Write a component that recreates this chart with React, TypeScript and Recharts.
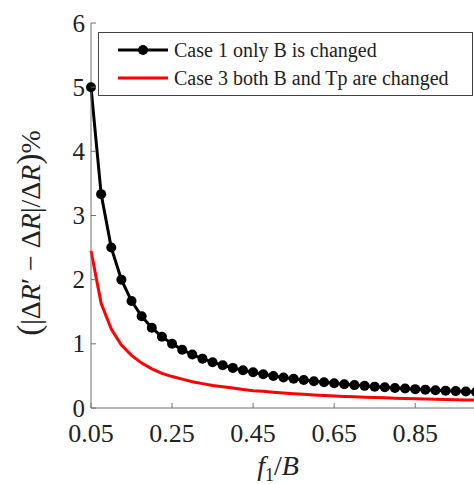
import { LineChart, Line, XAxis, YAxis, Legend } from 'recharts';

// f1/B sample points (step 0.025)
const f1OverB = [
  0.05, 0.075, 0.1, 0.125, 0.15, 0.175, 0.2, 0.225, 0.25, 0.275, 0.3, 0.325, 0.35,
  0.375, 0.4, 0.425, 0.45, 0.475, 0.5, 0.525, 0.55, 0.575, 0.6, 0.625, 0.65, 0.675,
  0.7, 0.725, 0.75, 0.775, 0.8, 0.825, 0.85, 0.875, 0.9, 0.925, 0.95, 0.975, 1.0,
];

// Case 1 only B is changed
const case1 = [
  5.0, 3.333, 2.5, 2.0, 1.667, 1.429, 1.25, 1.111, 1.0, 0.909, 0.833, 0.769, 0.714,
  0.667, 0.625, 0.588, 0.556, 0.526, 0.5, 0.476, 0.455, 0.435, 0.417, 0.4, 0.385, 0.37,
  0.357, 0.345, 0.333, 0.323, 0.313, 0.303, 0.294, 0.286, 0.278, 0.27, 0.263, 0.256, 0.25,
];

// Case 3 both B and Tp are changed
const case3 = [
  2.45, 1.63, 1.23, 0.98, 0.82, 0.7, 0.61, 0.54, 0.49, 0.45, 0.41, 0.38, 0.35,
  0.33, 0.31, 0.29, 0.27, 0.26, 0.245, 0.233, 0.223, 0.213, 0.204, 0.196, 0.188, 0.181,
  0.175, 0.169, 0.163, 0.158, 0.153, 0.148, 0.144, 0.14, 0.136, 0.132, 0.129, 0.126, 0.1225,
];

const xTicks = [0.05, 0.25, 0.45, 0.65, 0.85];
const yTicks = [0, 1, 2, 3, 4, 5, 6];

const data = f1OverB.map((x, i) => ({ x, case1: case1[i], case3: case3[i] }));

const FONT = '"Liberation Serif", "Times New Roman", serif';
const AXIS = '#707070';
const INK = '#222';
const TICK = 5;

const LeftTick = ({ x, y, payload }: any) => (
  <g>
    <line x1={x} x2={x + TICK} y1={y} y2={y} stroke={AXIS} />
    <text x={x - 6} y={y} dy="0.34em" textAnchor="end" fontSize={25} fontFamily={FONT} fill={INK}>
      {payload.value}
    </text>
  </g>
);

const BottomTick = ({ x, y, payload }: any) => (
  <g>
    <line x1={x} x2={x} y1={y} y2={y - TICK} stroke={AXIS} />
    <text x={x} y={y + 34} textAnchor="middle" fontSize={26} fontFamily={FONT} fill={INK}>
      {Number(payload.value).toFixed(2)}
    </text>
  </g>
);

const TopTick = ({ x, y }: any) => <line x1={x} x2={x} y1={y} y2={y + TICK} stroke={AXIS} />;
const RightTick = ({ x, y }: any) => <line x1={x - TICK} x2={x} y1={y} y2={y} stroke={AXIS} />;

const YTitle = () => (
  <text
    x={30}
    y={233}
    transform="rotate(-90 30 233)"
    textAnchor="middle"
    dy="0.35em"
    fontSize={28}
    fontFamily={FONT}
    fill={INK}
  >
    <tspan fontSize={33}>(</tspan>
    <tspan>|Δ</tspan>
    <tspan fontStyle="italic">R</tspan>
    <tspan>′ − Δ</tspan>
    <tspan fontStyle="italic">R</tspan>
    <tspan>|/Δ</tspan>
    <tspan fontStyle="italic">R</tspan>
    <tspan fontSize={33}>)</tspan>
    <tspan>%</tspan>
  </text>
);

const XTitle = () => (
  <text x={278} y={475} textAnchor="middle" fontSize={28} fontFamily={FONT} fill={INK}>
    <tspan fontStyle="italic">f</tspan>
    <tspan fontSize={18} dy={6}>1</tspan>
    <tspan dy={-6}>/</tspan>
    <tspan fontStyle="italic">B</tspan>
  </text>
);

const LegendBox = () => (
  <div
    style={{
      width: 375,
      height: 64,
      boxSizing: 'border-box',
      border: '1px solid #444',
      background: '#fff',
      fontFamily: FONT,
      fontSize: 20,
      color: INK,
      position: 'relative',
    }}
  >
    <svg width={60} height={64} style={{ position: 'absolute', left: 15, top: 0 }}>
      <line x1={4} x2={54} y1={17} y2={17} stroke="#000" strokeWidth={3} />
      <circle cx={29} cy={17} r={5} fill="#000" />
      <line x1={4} x2={54} y1={45} y2={45} stroke="#ff0000" strokeWidth={3} />
    </svg>
    <div style={{ position: 'absolute', left: 75, top: 4, lineHeight: '26px' }}>Case 1 only B is changed</div>
    <div style={{ position: 'absolute', left: 75, top: 32, lineHeight: '26px' }}>Case 3 both B and Tp are changed</div>
  </div>
);

export default function App() {
  return (
    <div style={{ position: 'absolute', left: 0, top: 0, width: 474, height: 484, overflow: 'hidden', background: '#fff' }}>
      <LineChart width={480} height={484} data={data} margin={{ top: 23, right: 4, bottom: 36, left: 31 }}>
        <XAxis
          dataKey="x"
          type="number"
          domain={[0.05, 1]}
          ticks={xTicks}
          height={40}
          stroke={AXIS}
          tickLine={false}
          tickSize={0}
          tickMargin={0}
          tick={<BottomTick />}
          label={<XTitle />}
        />
        <XAxis
          xAxisId="top"
          orientation="top"
          dataKey="x"
          type="number"
          domain={[0.05, 1]}
          allowDataOverflow
          ticks={xTicks}
          height={0}
          stroke={AXIS}
          tickLine={false}
          tickSize={0}
          tickMargin={0}
          tick={<TopTick />}
        />
        <YAxis
          type="number"
          domain={[0, 6]}
          ticks={yTicks}
          width={60}
          stroke={AXIS}
          tickLine={false}
          tickSize={0}
          tickMargin={0}
          tick={<LeftTick />}
          label={<YTitle />}
        />
        <YAxis
          yAxisId="right"
          orientation="right"
          type="number"
          domain={[0, 6]}
          allowDataOverflow
          ticks={yTicks}
          width={0}
          stroke={AXIS}
          tickLine={false}
          tickSize={0}
          tickMargin={0}
          tick={<RightTick />}
        />
        <Legend
          layout="horizontal"
          verticalAlign="middle"
          align="center"
          wrapperStyle={{ position: 'absolute', left: 98, top: 32, width: 375, height: 64 }}
          content={() => <LegendBox />}
        />
        <Line
          dataKey="case3"
          stroke="#ff0000"
          strokeWidth={3}
          dot={false}
          isAnimationActive={false}
        />
        <Line
          dataKey="case1"
          stroke="#000"
          strokeWidth={3}
          dot={{ r: 5, fill: '#000', stroke: '#000', strokeWidth: 0 }}
          isAnimationActive={false}
        />
      </LineChart>
    </div>
  );
}
